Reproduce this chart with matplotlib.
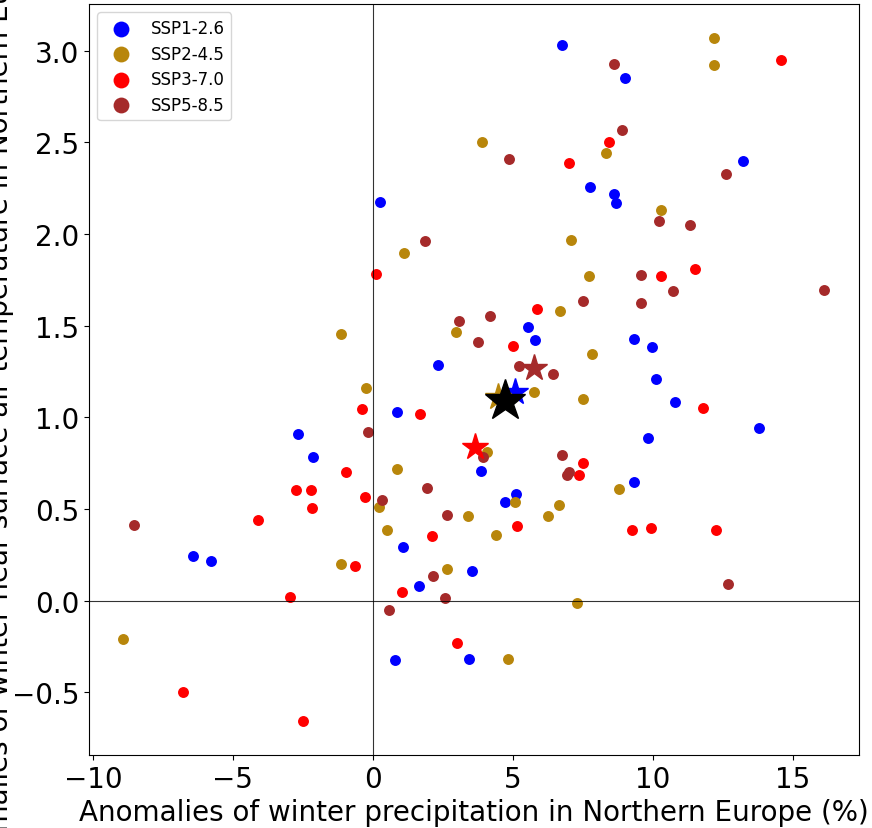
import matplotlib
matplotlib.use('Agg')
import matplotlib.pyplot as plt

# winter anomalies per model, one list pair per scenario
ssp126_pr = [6.76, 9.00, 13.20, 7.77, 8.61, 8.67, 0.25, 5.55, 5.80, 9.32,
             9.98, 2.32, 10.12, 10.80, 0.87, 13.79, 9.82, -2.67, -2.14, 3.87,
             9.33, 5.11, 4.73, 1.08, -6.43, -5.79, 3.55, 1.65, 0.80, 3.44]
ssp126_tas = [3.03, 2.85, 2.40, 2.255, 2.22, 2.17, 2.177, 1.493, 1.422, 1.426,
              1.384, 1.284, 1.21, 1.084, 1.03, 0.944, 0.886, 0.908, 0.784, 0.709,
              0.649, 0.582, 0.537, 0.295, 0.242, 0.215, 0.162, 0.079, -0.324, -0.318]

ssp245_pr = [12.18, 12.19, 3.90, 8.32, 10.29, 7.06, 1.10, 7.73, 6.67, 2.98,
             -1.15, 7.81, -0.24, 5.74, 7.51, 4.06, 0.86, 8.80, 5.08, 6.64,
             0.20, 3.40, 6.26, 0.51, 4.39, -1.14, 2.65, 7.30, -8.92, 4.83]
ssp245_tas = [3.068, 2.924, 2.50, 2.44, 2.13, 1.97, 1.895, 1.77, 1.582, 1.468,
              1.455, 1.346, 1.159, 1.137, 1.099, 0.81, 0.717, 0.609, 0.54, 0.522,
              0.513, 0.46, 0.46, 0.386, 0.358, 0.199, 0.171, -0.014, -0.211, -0.318]

ssp370_pr = [14.57, 8.44, 7.01, 0.11, 10.29, 11.50, 5.86, 5.00, 11.80, -0.39,
             1.67, 7.49, 7.36, -0.95, -2.75, -2.20, -2.18, -0.29, -4.12, 5.14,
             9.26, 9.92, 12.26, 2.10, -0.63, 1.05, -2.96, 3.01, -6.80, -2.50]
ssp370_tas = [2.95, 2.50, 2.39, 1.78, 1.773, 1.81, 1.591, 1.388, 1.051, 1.044,
              1.02, 0.75, 0.687, 0.70, 0.604, 0.604, 0.507, 0.564, 0.44, 0.406,
              0.384, 0.395, 0.387, 0.352, 0.188, 0.047, 0.022, -0.229, -0.50, -0.658]

ssp585_pr = [8.61, 8.88, 4.85, 12.61, 10.23, 11.32, 1.87, 9.58, 10.70, 16.10,
             7.49, 9.58, 4.19, 3.07, 3.76, 5.21, 6.44, -0.18, 3.93, 6.75,
             6.94, 7.01, 1.92, 0.33, 2.65, -8.55, 2.15, 2.57, 0.56, 12.67]
ssp585_tas = [2.93, 2.566, 2.41, 2.33, 2.07, 2.048, 1.964, 1.775, 1.69, 1.697,
              1.633, 1.624, 1.552, 1.524, 1.41, 1.282, 1.237, 0.922, 0.782, 0.796,
              0.687, 0.70, 0.613, 0.549, 0.468, 0.415, 0.135, 0.015, -0.049, 0.091]

scenarios = ['SSP1-2.6', 'SSP2-4.5', 'SSP3-7.0', 'SSP5-8.5']
colors = ['blue', 'darkgoldenrod', 'red', 'brown']

# ensemble means (stars)
mean_pr = [5.09, 4.45, 3.63, 5.77]
mean_tas = [1.14, 1.11, 0.837, 1.27]
all_mean_pr = 4.73
all_mean_tas = 1.09

pr = [ssp126_pr, ssp245_pr, ssp370_pr, ssp585_pr]
tas = [ssp126_tas, ssp245_tas, ssp370_tas, ssp585_tas]

fig = plt.figure(figsize=(8.72, 8.29), dpi=100)
ax = fig.add_axes([89/872, 73/829, 770/872, 751/829])

ax.axhline(0, color='k', lw=0.8, alpha=0.8)
ax.axvline(0, color='k', lw=0.8, alpha=0.8)

for i in range(4):
    ax.scatter(pr[i], tas[i], s=62, color=colors[i], linewidths=0, label=scenarios[i])
for i in range(4):
    ax.plot(mean_pr[i], mean_tas[i], marker='*', ms=20, color=colors[i], ls='none')
ax.plot(all_mean_pr, all_mean_tas, marker='*', ms=31, color='k', ls='none')

ax.set_xlim(-10.14, 17.36)
ax.set_ylim(-0.842, 3.255)
ax.tick_params(labelsize=20)
ax.set_xlabel('Anomalies of winter precipitation in Northern Europe (%)', fontsize=20)
ax.set_ylabel('Anomalies of winter near-surface air temperature in Northern Europe (K)',
              fontsize=20, labelpad=-1.5)
ax.legend(loc='upper left', fontsize=12, markerscale=1.45, labelspacing=0.45)

fig.savefig('out.png', dpi=100)
